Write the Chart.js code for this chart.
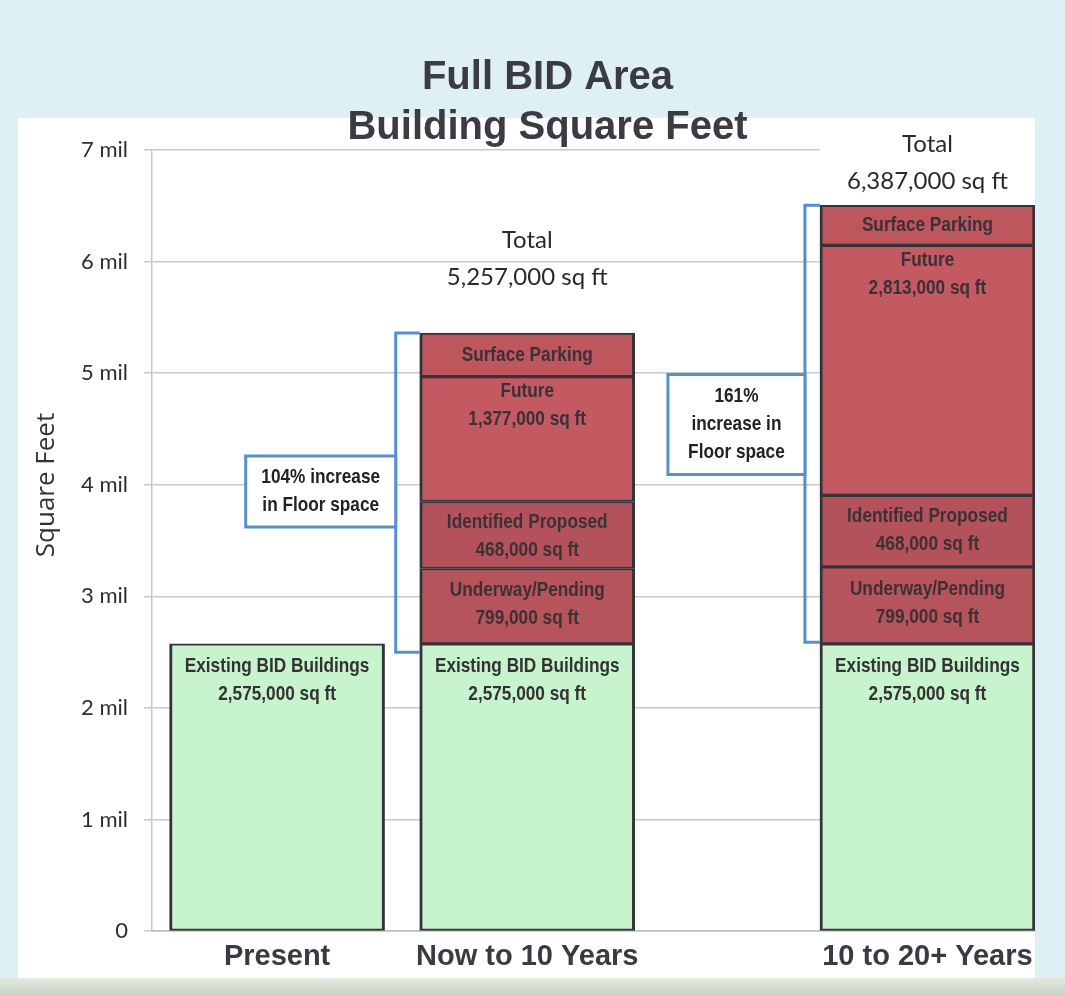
<!DOCTYPE html>
<html>
<head>
<meta charset="utf-8">
<script src="https://cdn.jsdelivr.net/npm/chart.js@4.4.1/dist/chart.umd.min.js"></script>
<style>
  html, body { margin: 0; padding: 0; }
  body { width: 1065px; height: 996px; background: #dff0f4; position: relative; overflow: hidden; }
  #panel { position: absolute; left: 18px; top: 118px; width: 1017px; height: 860px; background: #fff; }
  #foot { position: absolute; left: 0; top: 978px; width: 1065px; height: 18px; background: linear-gradient(#e4eae0, #c8d2c0); }
  #wrap { position: absolute; left: 0; top: 0; width: 1065px; height: 996px; }
</style>
</head>
<body>
<div id="panel"></div>
<div id="foot"></div>
<div id="wrap"><canvas id="chart"></canvas></div>
<script>
// values (drawn segment heights, sq ft)
const categories = ['Present', 'Now to 10 Years', '10 to 20+ Years'];
const existing = [2575000, 2575000, 2575000];
const underway = [null, 675000, 690000];
const identified = [null, 600000, 640000];
const future = [null, 1120000, 2240000];
const surfaceParking = [null, 390000, 360000];

const existingNotes = ['2,575,000 sq ft', '2,575,000 sq ft', '2,575,000 sq ft'];
const underwayNotes = [null, '799,000 sq ft', '799,000 sq ft'];
const identifiedNotes = [null, '468,000 sq ft', '468,000 sq ft'];
const futureNotes = [null, '1,377,000 sq ft', '2,813,000 sq ft'];
const totalNotes = [null, '5,257,000 sq ft', '6,387,000 sq ft'];
const increaseNotes = [null, ['104% increase', 'in Floor space'], ['161%', 'increase in', 'Floor space']];

const yTickValues = [0, 1e6, 2e6, 3e6, 4e6, 5e6, 6e6, 7e6];
const yTickLabels = ['0', '1 mil', '2 mil', '3 mil', '4 mil', '5 mil', '6 mil', '7 mil'];

// layout
const slots = [1, 3, 6.2];
const barWidth = 215;
const totalLabelAt = [null, 6.19e6, 7.05e6];
const bracketLow = [null, 2.5e6, 2.59e6];
const bracketGap = [null, 24, 15];
const boxCenterAt = [null, 3.94e6, 4.54e6];
const boxSize = [null, [150, 71], [137, 100]];

const sans = '"Liberation Sans", Arial, sans-serif';
const blue = '#5590cc';

function points(series) {
    return series.map((v, i) => ({ x: slots[i], y: v })).filter((p) => p.y !== null);
}

function segment(label, series, color, notes, offset) {
    return {
        label,
        data: points(series),
        backgroundColor: color,
        borderColor: '#35333a',
        borderWidth: { top: 2, bottom: 2, left: 3, right: 3 },
        borderSkipped: false,
        barThickness: barWidth,
        notes,
        textOffset: offset,
    };
}

// Arial Narrow look: squeeze Liberation Sans horizontally
function narrowText(ctx, txt, x, y) {
    ctx.save();
    ctx.translate(x, y);
    ctx.scale(0.82, 1);
    ctx.fillText(txt, 0, 0);
    ctx.restore();
}

const segmentLabels = {
    id: 'segmentLabels',
    afterDatasetsDraw(chart) {
        const { ctx, scales: { x, y } } = chart;
        ctx.save();
        ctx.textAlign = 'center';
        ctx.textBaseline = 'middle';
        // names and sizes inside each bar piece
        chart.data.datasets.forEach((ds, di) => {
            const meta = chart.getDatasetMeta(di);
            meta.data.forEach((el, j) => {
                const idx = slots.indexOf(ds.data[j].x);
                const note = ds.notes ? ds.notes[idx] : null;
                ctx.font = 'bold 21px ' + sans;
                ctx.fillStyle = di === 0 ? '#333333' : '#3d3036';
                if (ds.textOffset === null) {
                    narrowText(ctx, ds.label, el.x, (el.y + el.base) / 2);
                } else {
                    const t = el.y + ds.textOffset;
                    narrowText(ctx, ds.label, el.x, t);
                    if (note) narrowText(ctx, note, el.x, t + 28);
                }
            });
        });
        // totals above the bars
        totalNotes.forEach((txt, i) => {
            if (!txt) return;
            const cx = x.getPixelForValue(slots[i]);
            const ty = y.getPixelForValue(totalLabelAt[i]);
            ctx.fillStyle = '#ffffff';
            ctx.fillRect(cx - barWidth / 2, ty - 14, barWidth, 28);
            ctx.fillRect(cx - barWidth / 2, ty + 23, barWidth, 28);
            ctx.font = '24px Lato, sans-serif';
            ctx.fillStyle = '#2a2a2a';
            ctx.fillText('Total', cx, ty);
            ctx.fillText(txt, cx, ty + 37);
        });
        // brackets and increase boxes
        increaseNotes.forEach((lines, i) => {
            if (!lines) return;
            const left = x.getPixelForValue(slots[i]) - barWidth / 2;
            const bx = left - bracketGap[i];
            const top = y.getPixelForValue(
                existing[i] + underway[i] + identified[i] + future[i] + surfaceParking[i]);
            const low = y.getPixelForValue(bracketLow[i]);
            ctx.strokeStyle = blue;
            ctx.lineWidth = 3;
            ctx.beginPath();
            ctx.moveTo(left, top);
            ctx.lineTo(bx, top);
            ctx.lineTo(bx, low);
            ctx.lineTo(left, low);
            ctx.stroke();
            const [w, h] = boxSize[i];
            const cy = y.getPixelForValue(boxCenterAt[i]);
            ctx.fillStyle = '#ffffff';
            ctx.fillRect(bx - w, cy - h / 2, w, h);
            ctx.strokeRect(bx - w, cy - h / 2, w, h);
            ctx.font = 'bold 21px ' + sans;
            ctx.fillStyle = '#222222';
            lines.forEach((ln, k) => {
                narrowText(ctx, ln, bx - w / 2, cy + (k - (lines.length - 1) / 2) * 28);
            });
        });
        ctx.restore();
    },
    afterDraw(chart) {
        const { ctx } = chart;
        ctx.save();
        ctx.translate(47, 485);
        ctx.rotate(-Math.PI / 2);
        ctx.textAlign = 'center';
        ctx.textBaseline = 'middle';
        ctx.font = '26px "Open Sans", sans-serif';
        ctx.fillStyle = '#333333';
        ctx.fillText('Square Feet', 0, 0);
        ctx.restore();
    },
};

new Chart(document.getElementById('chart'), {
    type: 'bar',
    data: {
        datasets: [
            segment('Existing BID Buildings', existing, '#c8f4cd', existingNotes, 22),
            segment('Underway/Pending', underway, '#b5545a', underwayNotes, 22),
            segment('Identified Proposed', identified, '#b3525a', identifiedNotes, 21),
            segment('Future', future, '#c35a61', futureNotes, 15),
            segment('Surface Parking', surfaceParking, '#be565d', null, null),
        ],
    },
    plugins: [segmentLabels],
    options: {
        responsive: true,
        maintainAspectRatio: false,
        animation: false,
        layout: { padding: { left: 60, right: 30, top: 0, bottom: 22 } },
        plugins: {
            legend: { display: false },
            tooltip: { enabled: false },
            title: {
                display: true,
                text: ['Full BID Area', 'Building Square Feet'],
                font: { family: sans, size: 40, weight: 'bold', lineHeight: 1.25 },
                color: '#3b3b46',
                padding: { top: 53, bottom: -3 },
            },
        },
        scales: {
            x: {
                type: 'linear',
                offset: false,
                stacked: true,
                min: 0,
                max: 7.06,
                afterBuildTicks: (s) => { s.ticks = slots.map((v) => ({ value: v })); },
                ticks: {
                    autoSkip: false,
                    maxRotation: 0,
                    padding: 0,
                    callback: (v, i) => categories[i],
                    font: { family: sans, size: 29, weight: 'bold' },
                    color: '#3a3a42',
                },
                grid: { display: false },
                border: { color: '#bdbdbd', width: 1.5 },
            },
            y: {
                stacked: true,
                min: 0,
                max: 7e6,
                afterBuildTicks: (s) => { s.ticks = yTickValues.map((v) => ({ value: v })); },
                afterFit: (s) => { s.width = 92; },
                ticks: {
                    padding: 16,
                    callback: (v, i) => yTickLabels[i],
                    font: { family: 'Lato, sans-serif', size: 22 },
                    color: '#2d2d2d',
                },
                grid: { color: '#c8c8c8', lineWidth: 1.5, tickLength: 8 },
                border: { color: '#c8c8c8', width: 1.5 },
            },
        },
    },
});
</script>
</body>
</html>
